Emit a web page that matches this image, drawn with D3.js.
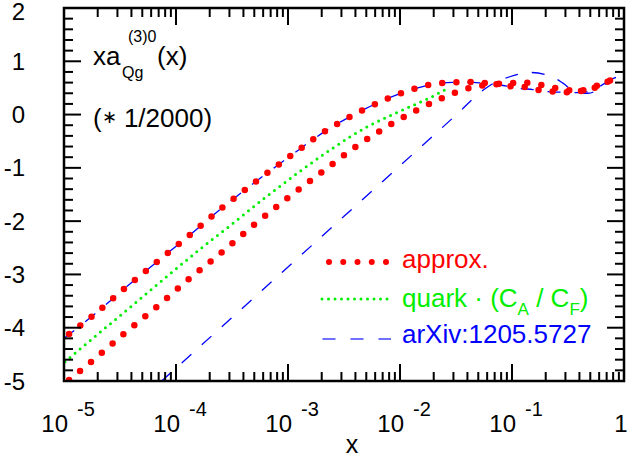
<!DOCTYPE html>
<html>
<head>
<meta charset="utf-8">
<script src="https://cdn.jsdelivr.net/npm/d3@7"></script>
<style>
  body { margin: 0; background: #fff; }
  svg text { font-family: "Liberation Sans", Arial, Helvetica, sans-serif; }
</style>
</head>
<body>
<div id="chart"></div>
<script>
// values (x, y pairs)
var approxUpperX = [1.11e-5, 1.77e-5, 3.40e-5, 6.70e-5, 1.31e-4, 2.58e-4, 5.14e-4, 1.03e-3, 2.12e-3, 4.50e-3, 7.52e-3, 1.32e-2, 2.31e-2, 4.09e-2, 7.18e-2, 0.127, 0.169, 0.222, 0.306, 0.411, 0.541, 0.701, 0.78];
var approxUpperY = [-4.12, -3.79, -3.28, -2.77, -2.27, -1.75, -1.26, -0.79, -0.32, 0.07, 0.29, 0.48, 0.59, 0.61, 0.58, 0.60, 0.57, 0.52, 0.46, 0.45, 0.52, 0.62, 0.65];

var approxLowerX = [1.11e-5, 1.77e-5, 3.40e-5, 6.70e-5, 1.30e-4, 2.58e-4, 4.97e-4, 9.86e-4, 1.98e-3, 3.98e-3, 8.34e-3, 1.37e-2, 2.31e-2, 4.01e-2, 5.28e-2, 7.18e-2, 9.77e-2, 0.129, 0.175, 0.233, 0.313, 0.411, 0.541, 0.701, 0.78];
var approxLowerY = [-4.98, -4.63, -4.12, -3.61, -3.09, -2.58, -2.07, -1.57, -1.09, -0.61, -0.18, 0.07, 0.30, 0.49, 0.54, 0.57, 0.53, 0.52, 0.46, 0.43, 0.42, 0.44, 0.50, 0.61, 0.65];

var quarkX = [1.02e-5, 2.09e-5, 5.83e-5, 1.63e-4, 3.23e-4, 6.41e-4, 1.27e-3, 2.51e-3, 4.99e-3, 9.89e-3, 1.30e-2, 1.83e-2, 2.49e-2];
var quarkY = [-4.64, -4.09, -3.31, -2.53, -2.04, -1.54, -1.07, -0.63, -0.24, 0.06, 0.17, 0.31, 0.46];

var arxivUpperX = [1.0e-5, 1.77e-5, 3.40e-5, 6.70e-5, 1.31e-4, 2.58e-4, 5.14e-4, 1.03e-3, 2.12e-3, 4.50e-3, 7.52e-3, 1.32e-2, 2.32e-2, 4.13e-2, 5.51e-2, 7.81e-2, 0.118, 0.154, 0.205, 0.279, 0.405, 0.551, 0.705, 1.0];
var arxivUpperY = [-4.20, -3.79, -3.28, -2.77, -2.27, -1.75, -1.26, -0.79, -0.32, 0.07, 0.29, 0.48, 0.59, 0.61, 0.59, 0.555, 0.49, 0.47, 0.43, 0.42, 0.41, 0.48, 0.61, 0.72];

var arxivLowerX = [7.45e-5, 3.16e-4, 1.0e-3, 3.16e-3, 1.0e-2, 3.16e-2, 5.62e-2, 6.62e-2, 9.40e-2, 0.145, 0.228, 0.285, 0.365, 0.477, 0.637, 0.782, 1.0];
var arxivLowerY = [-5.0, -3.81, -2.86, -1.91, -0.96, -0.01, 0.47, 0.57, 0.705, 0.79, 0.71, 0.59, 0.43, 0.40, 0.52, 0.67, 0.72];

var xDecades = [1e-5, 1e-4, 1e-3, 1e-2, 1e-1];
var xDecadeExps = ["-5", "-4", "-3", "-2", "-1"];
var yTickLabels = [2, 1, 0, -1, -2, -3, -4, -5];

var legendLabels = ["approx.", "quark", "arXiv:1205.5727"];

var red = "#ff0000", green = "#00ee00", blue = "#0000ff";

var svgWidth = 628;
var svgHeight = 457;

var svg = d3.select("#chart")
    .append("svg")
    .attr("width", svgWidth)
    .attr("height", svgHeight);

var plotLeft = 64, plotRight = 624, plotTop = 8, plotBottom = 381;

var x = d3.scaleLog().domain([1e-5, 1]).range([plotLeft, plotRight]);
var y = d3.scaleLinear().domain([-5, 2]).range([plotBottom, plotTop]);

svg.append("clipPath")
    .attr("id", "plotclip")
    .append("rect")
    .attr("x", plotLeft)
    .attr("y", plotTop)
    .attr("width", plotRight - plotLeft)
    .attr("height", plotBottom - plotTop);

var line = d3.line()
    .x(d => x(d[0]))
    .y(d => y(d[1]))
    .curve(d3.curveMonotoneX);

var curves = svg.append("g").attr("clip-path", "url(#plotclip)");

// blue dashed band
[[arxivUpperX, arxivUpperY], [arxivLowerX, arxivLowerY]].forEach(function (s) {
    curves.append("path")
        .attr("d", line(d3.zip(s[0], s[1])))
        .attr("fill", "none")
        .attr("stroke", blue)
        .attr("stroke-width", 1.3)
        .attr("stroke-dasharray", "13,14");
});

// green dotted
curves.append("path")
    .attr("d", line(d3.zip(quarkX, quarkY)))
    .attr("fill", "none")
    .attr("stroke", green)
    .attr("stroke-width", 3)
    .attr("stroke-linecap", "round")
    .attr("stroke-dasharray", "0,6.6");

// red dots band
[[approxUpperX, approxUpperY], [approxLowerX, approxLowerY]].forEach(function (s) {
    curves.append("path")
        .attr("d", line(d3.zip(s[0], s[1])))
        .attr("fill", "none")
        .attr("stroke", red)
        .attr("stroke-width", 6.5)
        .attr("stroke-linecap", "round")
        .attr("stroke-dasharray", "0,14.2");
});

// frame
svg.append("rect")
    .attr("x", plotLeft)
    .attr("y", plotTop)
    .attr("width", plotRight - plotLeft)
    .attr("height", plotBottom - plotTop)
    .attr("fill", "none")
    .attr("stroke", "#000")
    .attr("stroke-width", 2.5);

// ticks on all four sides
var ticks = svg.append("g").attr("stroke", "#000").attr("stroke-width", 2);
var isMajorX = t => Math.abs(Math.log10(t) - Math.round(Math.log10(t))) < 1e-6;
x.ticks().forEach(function (t) {
    var len = isMajorX(t) ? 17 : 9;
    var px = x(t);
    ticks.append("line").attr("x1", px).attr("x2", px).attr("y1", plotBottom).attr("y2", plotBottom - len);
    ticks.append("line").attr("x1", px).attr("x2", px).attr("y1", plotTop).attr("y2", plotTop + len);
});
y.ticks(35).forEach(function (t) {
    var len = Math.abs(t - Math.round(t)) < 1e-6 ? 17 : 9;
    var py = y(t);
    ticks.append("line").attr("x1", plotLeft).attr("x2", plotLeft + len).attr("y1", py).attr("y2", py);
    ticks.append("line").attr("x1", plotRight).attr("x2", plotRight - len).attr("y1", py).attr("y2", py);
});

// y labels (top one kept inside the page)
svg.selectAll(".ylab")
    .data(yTickLabels)
    .enter()
    .append("text")
    .attr("x", 25)
    .attr("y", d => Math.max(y(d), 11))
    .attr("dy", "0.36em")
    .attr("text-anchor", "end")
    .attr("font-size", "24px")
    .text(d => d);

// x labels: 10 with exponent
xDecades.forEach(function (v, i) {
    svg.append("text")
        .attr("x", x(v) + 4)
        .attr("y", 432)
        .attr("text-anchor", "end")
        .attr("font-size", "24px")
        .text("10");
    svg.append("text")
        .attr("x", x(v) + 13)
        .attr("y", 416)
        .attr("font-size", "20px")
        .text(xDecadeExps[i]);
});
svg.append("text")
    .attr("x", x(1) - 3)
    .attr("y", 432)
    .attr("text-anchor", "middle")
    .attr("font-size", "24px")
    .text("1");

svg.append("text")
    .attr("x", 352)
    .attr("y", 453)
    .attr("text-anchor", "middle")
    .attr("font-size", "25px")
    .text("x");

// annotation
svg.append("text").attr("x", 93).attr("y", 65).attr("font-size", "26px").text("xa");
svg.append("text").attr("x", 128).attr("y", 42).attr("font-size", "16px").text("(3)0");
svg.append("text").attr("x", 122).attr("y", 78).attr("font-size", "16px").text("Qg");
svg.append("text").attr("x", 157).attr("y", 65).attr("font-size", "26px").text("(x)");

var note = svg.append("text").attr("x", 93).attr("y", 127).attr("font-size", "26px");
note.append("tspan").text("(");
note.append("tspan").attr("font-size", "18px").attr("dy", -4).text("\u2217");
note.append("tspan").attr("dy", 4).text(" 1/2000)");

// legend
svg.append("path")
    .attr("d", d3.line()([[329, 262], [386.5, 262]]))
    .attr("stroke", red)
    .attr("stroke-width", 6)
    .attr("stroke-linecap", "round")
    .attr("stroke-dasharray", "0,14.25");
svg.append("path")
    .attr("d", d3.line()([[322, 299], [387.5, 299]]))
    .attr("stroke", green)
    .attr("stroke-width", 3)
    .attr("stroke-linecap", "round")
    .attr("stroke-dasharray", "0,6.5");
svg.append("path")
    .attr("d", d3.line()([[322.5, 339], [391, 339]]))
    .attr("stroke", blue)
    .attr("stroke-opacity", 0.75)
    .attr("stroke-width", 1.5)
    .attr("stroke-dasharray", "13,15");

svg.append("text").attr("x", 402).attr("y", 268).attr("font-size", "26px")
    .attr("fill", red).text(legendLabels[0]);

var q = svg.append("text").attr("x", 402).attr("y", 307).attr("font-size", "26px").attr("fill", green);
q.append("tspan").text(legendLabels[1] + " \u00b7 (C");
q.append("tspan").attr("font-size", "17px").attr("dy", 8).text("A");
q.append("tspan").attr("dy", -8).text(" / C");
q.append("tspan").attr("font-size", "17px").attr("dy", 8).text("F");
q.append("tspan").attr("dy", -8).text(")");

svg.append("text").attr("x", 402).attr("y", 343).attr("font-size", "26px")
    .attr("fill", blue).text(legendLabels[2]);
</script>
</body>
</html>
